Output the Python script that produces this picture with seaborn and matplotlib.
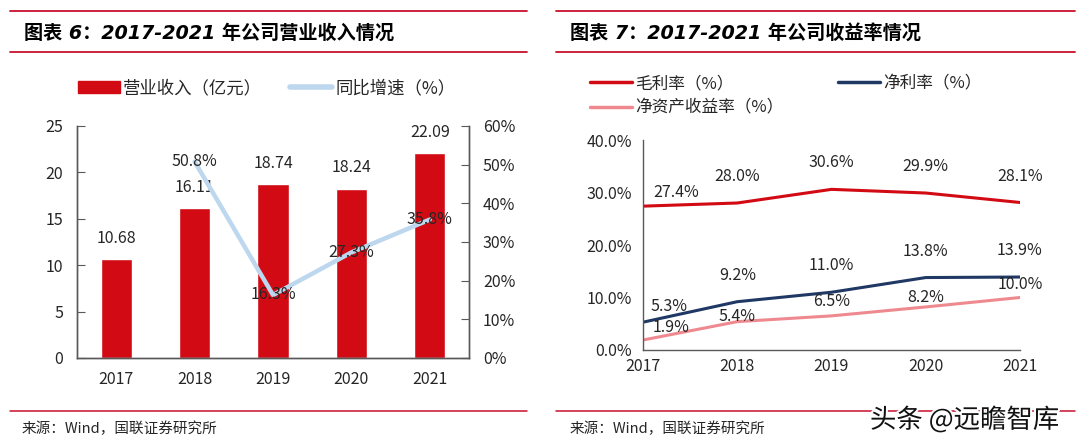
import matplotlib
matplotlib.use('Agg')
import matplotlib.pyplot as plt
import matplotlib.patheffects as pe
from matplotlib.patches import Patch
from matplotlib.lines import Line2D
import seaborn as sns
import pandas as pd

# ---- data ----
years = [2017, 2018, 2019, 2020, 2021]
revenue = [10.68, 16.11, 18.74, 18.24, 22.09]          # 亿元
growth_years = [2018, 2019, 2020, 2021]
growth = [50.8, 16.3, 27.3, 35.8]                      # %

gross_margin = [27.4, 28.0, 30.6, 29.9, 28.1]
net_margin = [5.3, 9.2, 11.0, 13.8, 13.9]
roe = [1.9, 5.4, 6.5, 8.2, 10.0]

RED = '#D20A14'
LBLUE = '#BDD7EE'
NAVY = '#203864'
PINK = '#EE8A8F'
LINE_RED = '#C8102E'
GREY = '#595959'
TXT = '#262626'

sns.set_style('white')
plt.rcParams['font.family'] = ['Noto Sans CJK SC', 'DejaVu Sans']
plt.rcParams['axes.unicode_minus'] = False

fig = plt.figure(figsize=(10.8, 4.45), dpi=100)

def fx(px):
    return px / 1080

def fy(py):
    return 1 - py / 445

# header / footer rules
for x0, x1 in [(10, 527), (556, 1075)]:
    for y in (11, 52):
        fig.add_artist(Line2D([fx(x0), fx(x1)], [fy(y), fy(y)], color=LINE_RED, lw=1.3))
    fig.add_artist(Line2D([fx(x0), fx(x1)], [fy(411), fy(411)], color=LINE_RED, lw=1.1))

title_kw = dict(fontsize=13.8, fontweight='bold', style='italic', color='black',
                va='center', ha='left', family=['DejaVu Sans', 'Noto Sans CJK SC'])
fig.text(fx(24), fy(33), '图表 6：2017-2021 年公司营业收入情况', **title_kw)
fig.text(fx(570), fy(33), '图表 7：2017-2021 年公司收益率情况', **title_kw)

foot_kw = dict(fontsize=10.5, color=TXT, va='center', ha='left')
fig.text(fx(22), fy(429), '来源：Wind，国联证券研究所', **foot_kw)
fig.text(fx(570), fy(429), '来源：Wind，国联证券研究所', **foot_kw)

# ---- left chart: revenue bars + growth line ----
ax = fig.add_axes([fx(77), fy(358), fx(392), 232 / 445])
df_rev = pd.DataFrame({'year': [str(y) for y in years], 'revenue': revenue})
sns.barplot(data=df_rev, x='year', y='revenue', color=RED, width=0.4,
            saturation=1, ax=ax)
ax.set_ylim(0, 25)
ax.set_yticks(range(0, 26, 5))
ax.set_xlim(-0.5, len(years) - 0.5)
ax.set_xlabel('')
ax.set_ylabel('')
for p, v in zip(ax.patches, revenue):
    ax.annotate(f'{v:.2f}', (p.get_x() + p.get_width() / 2, p.get_height()),
                xytext=(0, 15), textcoords='offset points', ha='center', va='center',
                fontsize=11.5, color=TXT)

ax2 = ax.twinx()
df_g = pd.DataFrame({'pos': [years.index(y) for y in growth_years], 'growth': growth})
sns.lineplot(data=df_g, x='pos', y='growth', color=LBLUE, lw=3.2, ax=ax2)
ax2.set_ylim(0, 60)
ax2.set_yticks(range(0, 61, 10))
ax2.set_yticklabels([f'{t}%' for t in range(0, 61, 10)])
ax2.set_ylabel('')
for x, v in zip(df_g['pos'], growth):
    ax2.text(x, v, f'{v:.1f}%', ha='center', va='center', fontsize=11.5, color=TXT)

for a in (ax, ax2):
    a.spines['top'].set_visible(False)
    for s in ('left', 'right', 'bottom'):
        a.spines[s].set_color(GREY)
        a.spines[s].set_linewidth(1)
ax.tick_params(axis='y', direction='in', length=6, color=GREY, labelsize=11.5,
               labelcolor=TXT, pad=10)
ax.tick_params(axis='x', length=0, labelsize=11.5, labelcolor=TXT, pad=9)
ax2.tick_params(axis='y', direction='in', length=6, color=GREY, labelsize=11.5,
                labelcolor=TXT, pad=10)

fig.legend(handles=[Patch(facecolor=RED, edgecolor=RED, label='营业收入（亿元）'),
                    Line2D([], [], color=LBLUE, lw=4, label='同比增速（%）')],
           loc='center left', bbox_to_anchor=(fx(78), fy(88)), ncol=2, frameon=False,
           fontsize=12.5, handlelength=2.4, handletextpad=0.2, columnspacing=1.6,
           borderpad=0, borderaxespad=0, labelcolor=TXT)

# ---- right chart: margins ----
ax3 = fig.add_axes([fx(643), fy(350), fx(377), 210 / 445])
df_m = pd.DataFrame({'year': years * 3,
                     'value': gross_margin + net_margin + roe,
                     'series': ['毛利率（%）'] * 5 + ['净利率（%）'] * 5 + ['净资产收益率（%）'] * 5})
palette = {'毛利率（%）': RED, '净利率（%）': NAVY, '净资产收益率（%）': PINK}
sns.lineplot(data=df_m, x='year', y='value', hue='series', palette=palette,
             lw=2.2, legend=False, ax=ax3)
ax3.set_xlim(years[0], years[-1])
ax3.set_xticks(years)
ax3.set_ylim(0, 40)
ax3.set_yticks(range(0, 41, 10))
ax3.set_yticklabels([f'{t:.1f}%' for t in range(0, 41, 10)])
ax3.set_xlabel('')
ax3.set_ylabel('')
for s in ('top', 'right'):
    ax3.spines[s].set_visible(False)
for s in ('left', 'bottom'):
    ax3.spines[s].set_color(GREY)
    ax3.spines[s].set_linewidth(1)
ax3.tick_params(axis='x', direction='in', length=5, color=GREY, labelsize=11.5,
                labelcolor=TXT, pad=6)
ax3.tick_params(axis='y', direction='out', length=5, color=GREY, labelsize=11.5,
                labelcolor=TXT, pad=3)

# label offsets in points (style only)
offs = {
    'gm': [(24, 10), (0, 19), (0, 19), (0, 19), (0, 19)],
    'nm': [(19, 11), (0, 19), (0, 19), (0, 19), (0, 19)],
    'roe': [(20, 9), (0, 4), (0, 10), (0, 6.5), (0, 9.5)],
}
for key, vals in (('gm', gross_margin), ('nm', net_margin), ('roe', roe)):
    for x, v, o in zip(years, vals, offs[key]):
        ax3.annotate(f'{v:.1f}%', (x, v), xytext=o, textcoords='offset points',
                     ha='center', va='center', fontsize=11.5, color=TXT,
                     annotation_clip=False)

fig.legend(handles=[Line2D([], [], color=RED, lw=2.5, label='毛利率（%）'),
                    Line2D([], [], color=PINK, lw=2.5, label='净资产收益率（%）'),
                    Line2D([], [], color=NAVY, lw=2.5, label='净利率（%）')],
           loc='upper left', bbox_to_anchor=(fx(590), fy(75)), ncol=2, frameon=False,
           fontsize=12, handlelength=2.5, handletextpad=0.2, columnspacing=3.3,
           labelspacing=0.45, borderpad=0, borderaxespad=0, labelcolor=TXT)

# watermark
fig.text(fx(870), fy(420), '头条 @远瞻智库', fontsize=19, color='#111111',
         va='center', ha='left',
         path_effects=[pe.withStroke(linewidth=3, foreground='white')])

fig.savefig('out.png', dpi=100)
